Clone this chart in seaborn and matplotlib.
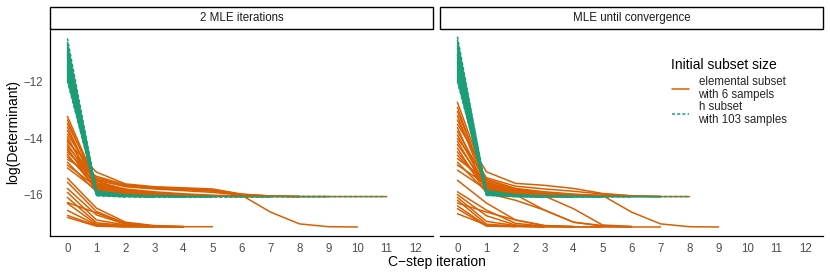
import pandas as pd
import matplotlib
matplotlib.use("Agg")
import matplotlib.pyplot as plt
from matplotlib.lines import Line2D
from matplotlib.patches import Rectangle
import seaborn as sns

PANELS = ["2 MLE iterations", "MLE until convergence"]
SUBSETS = ["elemental subset\nwith 6 sampels", "h subset\nwith 103 samples"]
COLORS = {SUBSETS[0]: "#D95F02", SUBSETS[1]: "#1B9E77"}
STEP_TICKS = list(range(13))
LOGDET_TICKS = [-16, -14, -12]

# log(Determinant) per C-step, one list per run (index = C-step iteration)
left_elemental = [
    [-13.22, -15.60, -15.88, -15.98, -16.02, -16.05, -16.07],
    [-13.35, -15.70, -15.90, -16.00, -16.04, -16.06],
    [-13.48, -15.52, -15.82, -15.95, -16.01, -16.04, -16.06, -16.07],
    [-13.60, -15.78, -15.95, -16.03, -16.06],
    [-13.72, -15.65, -15.86, -15.96, -16.02, -16.05, -16.07, -16.07, -16.07, -16.07, -16.07, -16.07],
    [-13.85, -15.45, -15.72, -15.80, -15.86, -15.92, -16.02, -16.06, -16.07],
    [-13.95, -15.85, -16.00, -16.05],
    [-14.05, -15.58, -15.80, -15.90, -15.97, -16.02, -16.05, -16.07],
    [-14.12, -15.20, -15.62, -15.72, -15.76, -15.80, -15.98, -16.05, -16.07],
    [-14.20, -15.74, -15.92, -16.01, -16.05, -16.07],
    [-14.28, -15.50, -15.70, -15.78, -15.82, -15.88, -16.00, -16.05, -16.07, -16.07],
    [-14.35, -15.88, -16.02, -16.06],
    [-14.42, -15.66, -15.88, -15.97, -16.03, -16.06],
    [-14.50, -15.40, -15.68, -15.76, -15.80, -15.84, -16.02, -16.62, -17.04, -17.14, -17.15],
    [-14.58, -15.80, -15.96, -16.03, -16.06],
    [-14.66, -15.62, -15.84, -15.94, -16.00, -16.04, -16.06, -16.07],
    [-14.75, -15.35, -15.65, -15.74, -15.78, -15.85, -15.99, -16.05, -16.07],
    [-14.85, -15.90, -16.03, -16.07],
    [-14.95, -15.72, -15.90, -15.99, -16.04, -16.06, -16.07],
    [-15.05, -15.84, -15.98, -16.04, -16.07],
    [-15.42, -16.48, -16.98, -17.10, -17.13],
    [-15.56, -16.60, -17.02, -17.12, -17.14, -17.14],
    [-15.78, -16.72, -17.05, -17.13],
    [-15.92, -16.90, -17.08, -17.14, -17.15],
    [-16.10, -17.00, -17.10, -17.14],
    [-16.28, -16.65, -17.04, -17.12, -17.14],
    [-16.31, -17.05, -17.12, -17.14, -17.15],
    [-16.56, -17.08, -17.13, -17.15],
    [-16.74, -17.10, -17.14],
    [-16.81, -17.12, -17.15, -17.15, -17.15],
]

left_h = [
    [-10.45, -15.92, -16.04, -16.07, -16.08],
    [-10.58, -15.98, -16.06, -16.08],
    [-10.66, -15.88, -16.02, -16.06, -16.07, -16.08],
    [-10.74, -16.02, -16.07, -16.08],
    [-10.82, -15.95, -16.05, -16.07, -16.07, -16.07, -16.07, -16.07, -16.07, -16.07, -16.07, -16.07],
    [-10.90, -15.86, -16.01, -16.05, -16.07],
    [-10.97, -16.00, -16.06, -16.08],
    [-11.04, -15.93, -16.04, -16.07, -16.08, -16.08],
    [-11.10, -15.90, -16.03, -16.06, -16.07],
    [-11.17, -16.04, -16.08],
    [-11.23, -15.96, -16.05, -16.07, -16.08, -16.08, -16.08, -16.08],
    [-11.30, -15.89, -16.02, -16.06, -16.07],
    [-11.36, -15.99, -16.06, -16.08],
    [-11.42, -15.94, -16.04, -16.07, -16.08, -16.08],
    [-11.48, -15.87, -16.01, -16.05, -16.07, -16.07, -16.07, -16.07, -16.07, -16.07],
    [-11.54, -16.01, -16.07, -16.08],
    [-11.60, -15.92, -16.03, -16.06, -16.07],
    [-11.66, -15.97, -16.05, -16.07, -16.08],
    [-11.72, -15.90, -16.02, -16.06, -16.07, -16.08],
    [-11.78, -16.03, -16.08],
    [-11.83, -15.95, -16.04, -16.07],
    [-11.88, -15.88, -16.02, -16.06, -16.07, -16.07, -16.07],
    [-11.92, -15.99, -16.06, -16.08],
    [-11.96, -15.93, -16.04, -16.07, -16.08],
]

right_elemental = [
    [-12.72, -15.55, -15.85, -15.97, -16.03, -16.06],
    [-12.90, -15.70, -15.92, -16.02, -16.06],
    [-13.05, -15.62, -15.88, -15.98, -16.04, -16.06, -16.07],
    [-13.20, -15.80, -15.97, -16.04, -16.07],
    [-13.35, -15.45, -15.78, -15.90, -15.98, -16.03, -16.06, -16.07],
    [-13.50, -15.19, -15.60, -15.67, -15.78, -15.96, -16.04, -16.07],
    [-13.62, -15.88, -16.02, -16.06],
    [-13.75, -15.58, -15.84, -15.95, -16.01, -16.05, -16.07, -16.07, -16.07],
    [-13.88, -15.75, -15.95, -16.03, -16.06],
    [-14.00, -15.40, -15.70, -15.80, -15.88, -15.98, -16.05, -16.07],
    [-14.10, -15.85, -16.00, -16.05],
    [-14.22, -15.66, -15.88, -15.99, -16.05, -16.07],
    [-14.35, -15.95, -16.20, -16.55, -16.98, -17.12, -17.15],
    [-14.48, -15.78, -16.00, -16.55, -16.98, -17.10, -17.14],
    [-14.60, -15.72, -15.92, -16.05, -16.50, -17.08, -17.13],
    [-14.72, -15.50, -15.80, -15.92, -16.00, -16.03, -16.62, -17.04, -17.14, -17.15],
    [-14.85, -15.90, -16.03, -16.07],
    [-14.95, -15.64, -15.90, -16.00, -16.05, -16.07],
    [-15.13, -15.82, -15.97, -16.04, -16.07],
    [-15.49, -16.30, -16.90, -17.10, -17.13],
    [-15.90, -16.55, -17.02, -17.12, -17.14],
    [-16.00, -16.75, -17.08, -17.13],
    [-16.10, -16.95, -17.10, -17.14, -17.15],
    [-16.20, -17.05, -17.12, -17.14],
    [-16.30, -16.62, -16.90, -17.10, -17.14, -17.15],
    [-16.40, -17.10, -17.13, -17.15],
    [-16.50, -17.12, -17.14],
    [-16.68, -17.08, -17.13, -17.14, -17.15, -17.15, -17.15, -17.15],
]

right_h = [
    [-10.39, -15.94, -16.05, -16.07, -16.08],
    [-10.50, -15.88, -16.02, -16.06, -16.07],
    [-10.60, -16.00, -16.06, -16.08],
    [-10.70, -15.91, -16.04, -16.07, -16.07, -16.07, -16.07, -16.07, -16.07],
    [-10.79, -15.97, -16.05, -16.08],
    [-10.88, -15.86, -16.01, -16.05, -16.07, -16.08],
    [-10.96, -16.03, -16.07, -16.08],
    [-11.04, -15.92, -16.04, -16.07],
    [-11.12, -15.89, -16.02, -16.06, -16.07, -16.08],
    [-11.20, -15.99, -16.06, -16.08],
    [-11.27, -15.93, -16.04, -16.07, -16.08, -16.08, -16.08],
    [-11.34, -15.87, -16.01, -16.05, -16.07],
    [-11.41, -16.02, -16.07, -16.08],
    [-11.48, -15.95, -16.05, -16.07, -16.08],
    [-11.55, -15.90, -16.03, -16.06, -16.07, -16.07, -16.07, -16.07],
    [-11.62, -15.98, -16.06, -16.08],
    [-11.68, -15.91, -16.03, -16.07],
    [-11.75, -15.96, -16.05, -16.07, -16.08],
    [-11.81, -15.88, -16.02, -16.06, -16.07, -16.08],
    [-11.87, -16.01, -16.07],
    [-11.93, -15.94, -16.04, -16.07, -16.08],
    [-11.98, -15.90, -16.03, -16.06, -16.07, -16.07],
]


def to_long(runs, panel, subset, start_id):
    rows = []
    for i, run in enumerate(runs):
        for step, val in enumerate(run):
            rows.append({"panel": panel, "subset": subset, "run": start_id + i,
                         "step": step, "logdet": val})
    return rows


rows = []
rows += to_long(left_elemental, PANELS[0], SUBSETS[0], 0)
rows += to_long(left_h, PANELS[0], SUBSETS[1], 100)
rows += to_long(right_elemental, PANELS[1], SUBSETS[0], 200)
rows += to_long(right_h, PANELS[1], SUBSETS[1], 300)
df = pd.DataFrame(rows)

sns.set_style("white")
plt.rcParams["font.family"] = ["Liberation Sans", "DejaVu Sans"]

W, H = 830, 277
fig = plt.figure(figsize=(W / 100, H / 100), dpi=100)

panel_w, panel_h = 383, 207.5
bottom = 1 - 236 / H
strip_h = 21.5
lefts = [50, 440]
axes = []
for k, panel in enumerate(PANELS):
    ax = fig.add_axes([lefts[k] / W, bottom, panel_w / W, panel_h / H])
    axes.append(ax)
    sub = df[df["panel"] == panel]
    sns.lineplot(data=sub, x="step", y="logdet", hue="subset", style="subset",
                 units="run", estimator=None, hue_order=SUBSETS, style_order=SUBSETS,
                 palette=COLORS, dashes={SUBSETS[0]: "", SUBSETS[1]: (2, 1.4)},
                 linewidth=1.1, legend=False, ax=ax)
    ax.set_xlim(-0.6, 12.6)
    ax.set_ylim(-17.47, -10.1)
    ax.set_xticks(STEP_TICKS)
    ax.set_yticks(LOGDET_TICKS)
    ax.set_xlabel("")
    ax.set_ylabel("")
    for side in ["top", "right"]:
        ax.spines[side].set_visible(False)
    for side in ["left", "bottom"]:
        ax.spines[side].set_color("black")
        ax.spines[side].set_linewidth(0.9)
    ax.tick_params(axis="both", direction="out", length=3, width=0.8, color="#333333",
                   labelsize=8.3, labelcolor="#4D4D4D", pad=2)
    if k == 1:
        ax.spines["left"].set_visible(False)
        ax.tick_params(axis="y", left=False, labelleft=False)
    # facet strip
    sh = strip_h / panel_h
    ax.add_patch(Rectangle((0, 1), 1, sh, transform=ax.transAxes, clip_on=False,
                           facecolor="white", edgecolor="black", linewidth=1.0))
    ax.text(0.5, 1 + sh / 2, panel, transform=ax.transAxes, ha="center", va="center",
            fontsize=8.3, color="#1A1A1A")

fig.text(437 / W, 1 - 262 / H, "C\u2212step iteration", ha="center", va="center",
         fontsize=10, color="black")
fig.text(13 / W, 1 - 132 / H, "log(Determinant)", ha="center", va="center",
         rotation=90, fontsize=10, color="black")

# legend title drawn separately for exact placement
fig.text(671 / W, 1 - 65 / H, "Initial subset size", ha="left", va="center",
         fontsize=10, color="black")
handles = [Line2D([], [], color=COLORS[SUBSETS[0]], lw=1.1),
           Line2D([], [], color=COLORS[SUBSETS[1]], lw=1.1, dashes=(2, 1.4))]
leg = fig.legend(handles, SUBSETS, loc="upper left", bbox_to_anchor=(672 / W, 1 - 76 / H),
                 frameon=False, fontsize=8.3, borderpad=0, borderaxespad=0,
                 handlelength=1.5, handletextpad=0.8, labelspacing=0.0)
for t in leg.get_texts():
    t.set_linespacing(1.1)

fig.savefig("out.png", dpi=100)
